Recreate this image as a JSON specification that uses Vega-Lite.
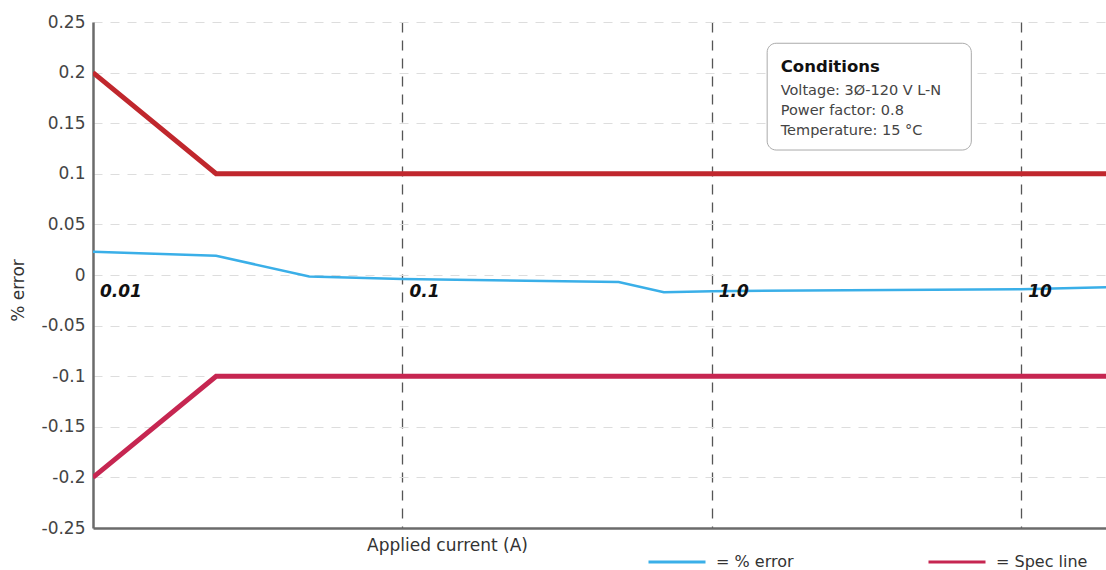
{
  "$schema": "https://vega.github.io/schema/vega-lite/v6.json",
  "width": 1013,
  "height": 506,
  "autosize": {"type": "none"},
  "padding": {"left": 93, "top": 22, "right": 0, "bottom": 42},
  "background": "white",
  "config": {"view": {"stroke": null}, "font": "DejaVu Sans"},
  "datasets": {
    "err": [
      {"current": 0.01, "error": 0.023, "series": "= % error"},
      {"current": 0.025, "error": 0.019, "series": "= % error"},
      {"current": 0.05, "error": -0.0015, "series": "= % error"},
      {"current": 0.1, "error": -0.004, "series": "= % error"},
      {"current": 0.5, "error": -0.007, "series": "= % error"},
      {"current": 0.7, "error": -0.017, "series": "= % error"},
      {"current": 1, "error": -0.016, "series": "= % error"},
      {"current": 10, "error": -0.014, "series": "= % error"},
      {"current": 18.8, "error": -0.012, "series": "= % error"}
    ],
    "spec": [
      {"current": 0.01, "error": 0.2, "series": "upper"},
      {"current": 0.025, "error": 0.1, "series": "upper"},
      {"current": 18.8, "error": 0.1, "series": "upper"},
      {"current": 0.01, "error": -0.2, "series": "= Spec line"},
      {"current": 0.025, "error": -0.1, "series": "= Spec line"},
      {"current": 18.8, "error": -0.1, "series": "= Spec line"}
    ],
    "decades": [
      {"current": 0.01, "error": 0, "label": "0.01"},
      {"current": 0.1, "error": 0, "label": "0.1"},
      {"current": 1, "error": 0, "label": "1.0"},
      {"current": 10, "error": 0, "label": "10"}
    ],
    "box": [{"x": 1.51, "x2": 6.9, "y": 0.229, "y2": 0.1235}],
    "condTitle": [{"x": 1.67, "y": 0.2055, "text": "Conditions"}],
    "condBody": [
      {"x": 1.67, "y": 0.182, "text": "Voltage: 3Ø-120 V L-N"},
      {"x": 1.67, "y": 0.162, "text": "Power factor: 0.8"},
      {"x": 1.67, "y": 0.142, "text": "Temperature: 15 °C"}
    ]
  },
  "layer": [
    {
      "data": {"name": "spec"},
      "mark": {"type": "line", "strokeWidth": 5, "strokeCap": "butt", "clip": true},
      "encoding": {
        "x": {
          "field": "current", "type": "quantitative",
          "scale": {"type": "log", "domain": [0.01, 18.8], "nice": false},
          "axis": {
            "labels": false, "ticks": false,
            "domainColor": "#6b6b6b", "domainWidth": 2.5,
            "grid": true, "values": [0.1, 1, 10],
            "gridColor": "#555", "gridDash": [10, 8], "gridWidth": 1.3,
            "title": "Applied current (A)",
            "titleFontSize": 17, "titleFontWeight": "normal", "titleColor": "#333",
            "titleX": 354, "titleY": 9, "titleBaseline": "top", "titleAlign": "center"
          }
        },
        "y": {
          "field": "error", "type": "quantitative",
          "scale": {"domain": [-0.25, 0.25], "nice": false},
          "axis": {
            "values": [-0.25, -0.2, -0.15, -0.1, -0.05, 0, 0.05, 0.1, 0.15, 0.2, 0.25],
            "labelExpr": "toString(datum.value)",
            "labelFontSize": 17, "labelColor": "#444", "labelPadding": 8,
            "ticks": false,
            "domainColor": "#6b6b6b", "domainWidth": 2.5,
            "grid": true, "gridColor": "#dddddd", "gridDash": [9, 8], "gridWidth": 1,
            "title": "% error",
            "titleFontSize": 17, "titleFontWeight": "normal", "titleColor": "#333",
            "titleX": -75, "titleY": 268, "titleAngle": -90,
            "titleAlign": "center", "titleBaseline": "middle"
          }
        },
        "color": {
          "field": "series", "type": "nominal",
          "scale": {
            "domain": ["= % error", "= Spec line", "upper"],
            "range": ["#3aafe8", "#c62651", "#c0272d"]
          },
          "legend": {
            "values": ["= % error", "= Spec line"],
            "orient": "none", "legendX": 573, "legendY": 529,
            "direction": "horizontal", "title": null,
            "symbolType": "M-3,0L3,0", "symbolSize": 361, "symbolStrokeWidth": 3,
            "labelFontSize": 16, "labelColor": "#333", "labelOffset": 28,
            "columnPadding": 128
          }
        }
      }
    },
    {
      "data": {"name": "err"},
      "mark": {"type": "line", "strokeWidth": 2.5, "clip": true},
      "encoding": {
        "x": {"field": "current", "type": "quantitative"},
        "y": {"field": "error", "type": "quantitative"},
        "color": {"field": "series", "type": "nominal"}
      }
    },
    {
      "data": {"name": "decades"},
      "mark": {"type": "text", "align": "left", "baseline": "middle", "dx": 7, "dy": 17,
               "fontSize": 17, "fontStyle": "italic", "fontWeight": "bold", "color": "#111"},
      "encoding": {
        "x": {"field": "current", "type": "quantitative"},
        "y": {"field": "error", "type": "quantitative"},
        "text": {"field": "label"}
      }
    },
    {
      "data": {"name": "box"},
      "mark": {"type": "rect", "fill": "white", "stroke": "#aaaaaa", "strokeWidth": 1, "cornerRadius": 9},
      "encoding": {
        "x": {"field": "x", "type": "quantitative"},
        "x2": {"field": "x2"},
        "y": {"field": "y", "type": "quantitative"},
        "y2": {"field": "y2"}
      }
    },
    {
      "data": {"name": "condTitle"},
      "mark": {"type": "text", "align": "left", "baseline": "middle", "fontSize": 16.5, "fontWeight": "bold", "color": "#111"},
      "encoding": {
        "x": {"field": "x", "type": "quantitative"},
        "y": {"field": "y", "type": "quantitative"},
        "text": {"field": "text"}
      }
    },
    {
      "data": {"name": "condBody"},
      "mark": {"type": "text", "align": "left", "baseline": "middle", "fontSize": 14.5, "color": "#444"},
      "encoding": {
        "x": {"field": "x", "type": "quantitative"},
        "y": {"field": "y", "type": "quantitative"},
        "text": {"field": "text"}
      }
    }
  ]
}
